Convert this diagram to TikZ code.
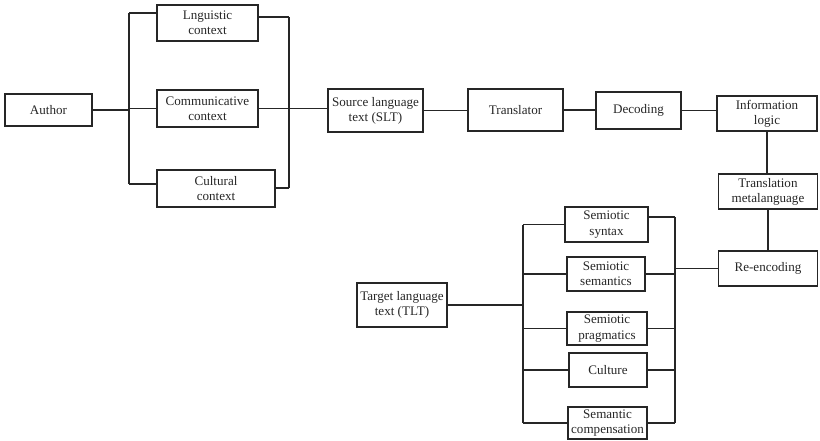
\documentclass[tikz,border=0pt]{standalone}
\usepackage{fontspec}
\setmainfont{Liberation Serif}
\begin{document}
\begin{tikzpicture}[x=0.025cm,y=-0.025cm,line width=1pt,black!85,
	caja/.style={draw,align=center,inner xsep=1pt,inner ysep=0pt,text=black!85,font=\fontsize{9.3}{10.8}\selectfont}]
			\useasboundingbox (0,0) rectangle (820,440);

			% Cajas superiores
			\node[caja,minimum width=2.175cm,minimum height=0.8cm] (author) at (48.5,110) {Author};
			\node[caja,minimum width=2.525cm,minimum height=0.9cm] (lng) at (207.5,23) {Lnguistic\\context};
			\node[caja,minimum width=2.525cm,minimum height=0.925cm] (comm) at (207.5,108.5) {Communicative\\context};
			\node[caja,minimum width=2.95cm,minimum height=0.925cm] (cult) at (216,188.5) {Cultural\\context};
			\node[caja,minimum width=2.375cm,minimum height=1.075cm] (slt) at (375.5,110.5) {Source language\\text (SLT)};
			\node[caja,minimum width=2.375cm,minimum height=1.05cm] (trans) at (515.5,110) {Translator};
			\node[caja,minimum width=2.125cm,minimum height=0.925cm] (dec) at (638.5,110.5) {Decoding};
			\node[caja,minimum width=2.5cm,minimum height=0.875cm] (info) at (767,113.5) {Information\\logic};
			\node[caja,minimum width=2.475cm,minimum height=0.875cm] (meta) at (768,191.5) {Translation\\metalanguage};
			\node[caja,minimum width=2.475cm,minimum height=0.875cm] (reenc) at (768,268.5) {Re-encoding};

			% Cajas inferiores
			\node[caja,minimum width=2.25cm,minimum height=1.1cm] (tlt) at (402,305) {Target language\\text (TLT)};
			\node[caja,minimum width=2.075cm,minimum height=0.875cm] (syn) at (606.5,224.5) {Semiotic\\syntax};
			\node[caja,minimum width=1.95cm,minimum height=0.85cm] (sem) at (606,274) {Semiotic\\semantics};
			\node[caja,minimum width=2cm,minimum height=0.825cm] (prag) at (607,328.5) {Semiotic\\pragmatics};
			\node[caja,minimum width=1.95cm,minimum height=0.85cm] (cul) at (608,370) {Culture};
			\node[caja,minimum width=1.975cm,minimum height=0.8cm] (comp) at (607.5,423) {Semantic\\compensation};

			% Contextos
			\coordinate (lb1) at (129,13);
			\coordinate (lb2) at (129,184);
			\coordinate (rb1) at (289,17);
			\coordinate (rb2) at (289,188);
			\draw (lb1) -- (lb2);
			\draw (rb1) -- (rb2);
			\draw (author.east) -- (author.east -| lb1);
			\draw (lb1) -- (lb1 -| lng.west);
			\draw (comm.west -| lb1) -- (comm.west);
			\draw (lb2) -- (lb2 -| cult.west);
			\draw (rb1 -| lng.east) -- (rb1);
			\draw (rb2 -| cult.east) -- (rb2);
			\draw (comm.east) -- (comm.east -| slt.west);

			% Cadena
			\draw (slt.east) -- (slt.east -| trans.west);
			\draw (trans.east) -- (trans.east -| dec.west);
			\draw (dec.east) -- (dec.east -| info.west);
			\draw (info.south) -- (info.south |- meta.north);
			\draw (meta.south) -- (reenc.north);

			% Semiotica
			\coordinate (lb3) at (523,300);
			\coordinate (rb3) at (675,217);
			\coordinate (rb4) at (675,423);
			\draw (syn.west -| lb3) -- (comp.west -| lb3);
			\draw (rb3) -- (rb4);
			\draw (tlt.east) -- (tlt.east -| lb3);
			\draw (syn.west -| lb3) -- (syn.west);
			\draw (sem.west -| lb3) -- (sem.west);
			\draw (prag.west -| lb3) -- (prag.west);
			\draw (cul.west -| lb3) -- (cul.west);
			\draw (comp.west -| lb3) -- (comp.west);
			\draw (rb3 -| syn.east) -- (rb3);
			\draw (sem.east) -- (sem.east -| rb3);
			\draw (prag.east) -- (prag.east -| rb3);
			\draw (cul.east) -- (cul.east -| rb3);
			\draw (comp.east) -- (rb4);
			\draw (reenc.west) -- (reenc.west -| rb3);

		    \end{tikzpicture}
\end{document}
